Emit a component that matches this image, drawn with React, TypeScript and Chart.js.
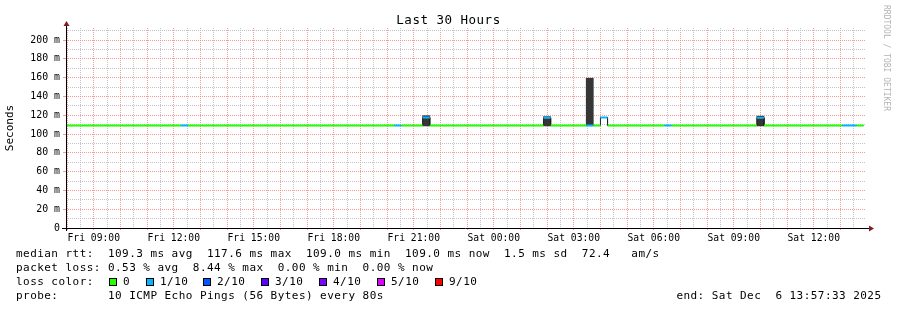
import React, { useEffect, useRef } from 'react';
import { Chart, registerables } from 'chart.js';

Chart.register(...registerables);

// ---------- data ----------
// time axis: minutes since Fri 00:00; RRD bins are 16 minutes wide
const BIN_MINUTES = 16;
const START_MIN = 477.55; // Fri 07:57:33
const END_MIN = 2277.55; // Sat 13:57:33

const X_LABEL_VALUES = [540, 720, 900, 1080, 1260, 1440, 1620, 1800, 1980, 2160];
const X_LABELS = ['Fri 09:00', 'Fri 12:00', 'Fri 15:00', 'Fri 18:00', 'Fri 21:00', 'Sat 00:00', 'Sat 03:00', 'Sat 06:00', 'Sat 09:00', 'Sat 12:00'];

const Y_MAX = 212.8;

// median rtt runs (bin index ranges [start, end)), value in ms, lost pings out of 10
const RUN_START_BIN = [29, 46, 47, 76, 77, 80, 81, 97, 98, 103, 104, 105, 106, 114, 115, 127, 128, 139, 141];
const RUN_END_BIN = [46, 47, 76, 77, 80, 81, 97, 98, 103, 104, 105, 106, 114, 115, 127, 128, 139, 141, 142];
const RUN_MEDIAN_MS = [109.0, 109.1, 109.0, 109.1, 109.0, 117.6, 109.0, 117.2, 109.0, 109.1, 109.0, 117.6, 109.0, 109.1, 109.0, 117.4, 109.0, 109.1, 109.0];
const RUN_LOSS = [0, 1, 0, 1, 0, 1, 0, 1, 0, 1, 0, 1, 0, 1, 0, 1, 0, 1, 0];

// smoke (spread of the pings) in the bins where it is visible
const SMOKE_BIN = [80, 97, 103, 127];
const SMOKE_LOW_MS = [108.6, 108.6, 108.8, 108.6];
const SMOKE_HIGH_MS = [119.5, 118.5, 159.4, 119.0];

const LOSS_LABELS = ['0', '1/10', '2/10', '3/10', '4/10', '5/10', '9/10'];
const LOSS_COLORS = ['#26ff00', '#00b8ff', '#0059ff', '#5e00ff', '#7e00ff', '#dd00ff', '#ff0000'];

const RTT_STATS = ['109.3 ms avg', '117.6 ms max', '109.0 ms min', '109.0 ms now', '1.5 ms sd', '72.4   am/s'];
const LOSS_STATS = ['0.53 % avg', '8.44 % max', '0.00 % min', '0.00 % now'];
const PROBE_TEXT = '10 ICMP Echo Pings (56 Bytes) every 80s';
const END_TEXT = 'end: Sat Dec  6 13:57:33 2025';
const TITLE = 'Last 30 Hours';
const Y_TITLE = 'Seconds';
const WATERMARK = 'RRDTOOL / TOBI OETIKER';

// ---------- styles ----------
const MONO = '"DejaVu Sans Mono", monospace';
const PINK = 'rgba(240,120,120,0.75)';
const GRAY = 'rgba(190,190,190,0.9)';
const SMOKE = '#363636';
const ARROW = '#7f1f1f';

const axisPlugin = {
  id: 'axisArrows',
  afterDatasetsDraw(chart: any) {
    const { ctx, chartArea: a } = chart;
    ctx.save();
    ctx.strokeStyle = '#000';
    ctx.lineWidth = 1;
    ctx.beginPath();
    ctx.moveTo(a.left - 4, a.bottom + 0.5);
    ctx.lineTo(a.right + 3, a.bottom + 0.5);
    ctx.moveTo(a.left + 0.5, a.top - 3);
    ctx.lineTo(a.left + 0.5, a.bottom + 3);
    ctx.stroke();
    ctx.fillStyle = ARROW;
    ctx.beginPath();
    ctx.moveTo(a.right + 8, a.bottom + 0.5);
    ctx.lineTo(a.right + 3, a.bottom - 2.5);
    ctx.lineTo(a.right + 3, a.bottom + 3.5);
    ctx.closePath();
    ctx.fill();
    ctx.beginPath();
    ctx.moveTo(a.left + 0.5, a.top - 7);
    ctx.lineTo(a.left - 2.5, a.top - 2);
    ctx.lineTo(a.left + 3.5, a.top - 2);
    ctx.closePath();
    ctx.fill();
    ctx.restore();
  },
};

function coloredPoints(level: number) {
  const pts: { x: number; y: number | null }[] = [];
  RUN_START_BIN.forEach((s, i) => {
    if (RUN_LOSS[i] !== level) return;
    const e = RUN_END_BIN[i];
    pts.push({ x: s * BIN_MINUTES, y: RUN_MEDIAN_MS[i] });
    pts.push({ x: e * BIN_MINUTES, y: RUN_MEDIAN_MS[i] });
    pts.push({ x: e * BIN_MINUTES, y: null });
  });
  return pts;
}

function medianPoints() {
  const pts: { x: number; y: number }[] = [];
  RUN_START_BIN.forEach((s, i) => {
    pts.push({ x: s * BIN_MINUTES, y: RUN_MEDIAN_MS[i] });
    pts.push({ x: RUN_END_BIN[i] * BIN_MINUTES, y: RUN_MEDIAN_MS[i] });
  });
  return pts;
}

export default function App() {
  const ref = useRef<HTMLCanvasElement>(null);

  useEffect(() => {
    const levels = Array.from(new Set(RUN_LOSS));
    const lossSets = levels.map((lvl) => ({
      type: 'line' as const,
      data: coloredPoints(lvl),
      borderColor: LOSS_COLORS[lvl],
      borderWidth: 2,
      pointRadius: 0,
      tension: 0,
      spanGaps: false,
      order: 0,
    }));
    const chart = new Chart(ref.current as HTMLCanvasElement, {
      type: 'line',
      data: {
        datasets: [
          ...lossSets,
          {
            type: 'line',
            data: medianPoints(),
            borderColor: '#202020',
            borderWidth: 1,
            pointRadius: 0,
            tension: 0,
            order: 5,
          },
          {
            type: 'bar',
            data: SMOKE_BIN.map((b, i) => ({ x: (b + 0.5) * BIN_MINUTES, y: [SMOKE_LOW_MS[i], SMOKE_HIGH_MS[i]] })),
            backgroundColor: SMOKE,
            borderWidth: 0,
            barThickness: (BIN_MINUTES / 60) * (800 / 30),
            grouped: false,
            order: 10,
          } as any,
        ],
      },
      options: {
        animation: false,
        responsive: false,
        devicePixelRatio: 1,
        events: [],
        layout: { padding: { top: 28, right: 31, bottom: 0, left: 0 } },
        plugins: { legend: { display: false }, tooltip: { enabled: false }, title: { display: false } },
        scales: {
          x: {
            type: 'linear',
            offset: false,
            min: START_MIN,
            max: END_MIN,
            afterBuildTicks: (scale: any) => {
              const ticks = [];
              for (let v = Math.ceil(START_MIN / 30) * 30; v <= END_MIN; v += 30) ticks.push({ value: v });
              scale.ticks = ticks;
            },
            afterFit: (scale: any) => {
              scale.height = 22;
            },
            grid: {
              offset: false,
              color: (c: any) => (c.tick && c.tick.value % 60 === 0 ? PINK : GRAY),
              tickColor: (c: any) => (c.tick && c.tick.value % 60 === 0 ? PINK : 'rgba(0,0,0,0)'),
              lineWidth: 1,
              drawTicks: true,
              tickLength: 2,
            },
            border: { display: false, dash: [1, 1] },
            ticks: {
              autoSkip: false,
              maxRotation: 0,
              minRotation: 0,
              padding: 3,
              color: '#000',
              font: { family: MONO, size: 9.7 },
              callback: (v: any) => {
                const i = X_LABEL_VALUES.indexOf(Number(v));
                return i >= 0 ? X_LABELS[i] : '';
              },
            },
          },
          y: {
            type: 'linear',
            min: 0,
            max: Y_MAX,
            afterFit: (scale: any) => {
              scale.width = 66;
            },
            grid: {
              color: (c: any) => (c.tick && c.tick.value % 20 === 0 ? PINK : GRAY),
              tickColor: (c: any) => (c.tick && c.tick.value % 20 === 0 ? PINK : 'rgba(0,0,0,0)'),
              lineWidth: 1,
              drawTicks: true,
              tickLength: 3,
            },
            border: { display: false, dash: [1, 1] },
            title: {
              display: true,
              text: Y_TITLE,
              color: '#000',
              font: { family: MONO, size: 11, lineHeight: 1 },
              padding: { top: 5, bottom: 0 },
            },
            ticks: {
              stepSize: 10,
              includeBounds: false,
              autoSkip: false,
              padding: 3,
              color: '#000',
              font: { family: MONO, size: 9.9 },
              callback: (v: any) => {
                const n = Number(v);
                if (n === 0) return '0';
                return n % 20 === 0 ? `${n} m` : '';
              },
            },
          },
        },
      },
      plugins: [axisPlugin],
    });
    return () => chart.destroy();
  }, []);

  const legendText: React.CSSProperties = {
    position: 'absolute',
    fontFamily: MONO,
    fontSize: 11,
    letterSpacing: '0.45px',
    lineHeight: '14px',
    whiteSpace: 'pre',
    color: '#000',
  };
  const SWATCH_X = [109, 146, 203, 261, 319, 377, 435];

  return (
    <div
      style={{
        position: 'absolute',
        left: 0,
        top: 0,
        width: 897,
        height: 310,
        background: '#fff',
        overflow: 'hidden',
      }}
    >
      <canvas ref={ref} width={897} height={250} style={{ position: 'absolute', left: 0, top: 0, width: 897, height: 250 }} />
      <div
        style={{
          position: 'absolute',
          left: 0,
          width: 897,
          top: 12,
          textAlign: 'center',
          fontFamily: MONO,
          fontSize: 12.5,
          letterSpacing: '0.5px',
          lineHeight: '15px',
          color: '#000',
          whiteSpace: 'pre',
        }}
      >
        {TITLE}
      </div>
      <div
        style={{
          position: 'absolute',
          left: 881,
          top: 5,
          writingMode: 'vertical-rl',
          fontFamily: MONO,
          fontSize: 8,
          lineHeight: '10px',
          color: '#b4b4b4',
          whiteSpace: 'pre',
        }}
      >
        {WATERMARK}
      </div>
      <div style={{ ...legendText, left: 16, top: 247 }}>{'median rtt:  ' + RTT_STATS.join('  ')}</div>
      <div style={{ ...legendText, left: 16, top: 261 }}>{'packet loss: ' + LOSS_STATS.join('  ')}</div>
      <div style={{ ...legendText, left: 16, top: 275 }}>{'loss color:'}</div>
      {LOSS_LABELS.map((lab, i) => (
        <React.Fragment key={lab}>
          <div
            style={{
              position: 'absolute',
              left: SWATCH_X[i],
              top: 278,
              width: 8,
              height: 8,
              boxSizing: 'border-box',
              border: '1px solid #000',
              background: LOSS_COLORS[i],
            }}
          />
          <div style={{ ...legendText, left: SWATCH_X[i] + 14, top: 275 }}>{lab}</div>
        </React.Fragment>
      ))}
      <div style={{ ...legendText, left: 16, top: 289 }}>{'probe:       ' + PROBE_TEXT}</div>
      <div style={{ ...legendText, right: 15.5, top: 289 }}>{END_TEXT}</div>
    </div>
  );
}
